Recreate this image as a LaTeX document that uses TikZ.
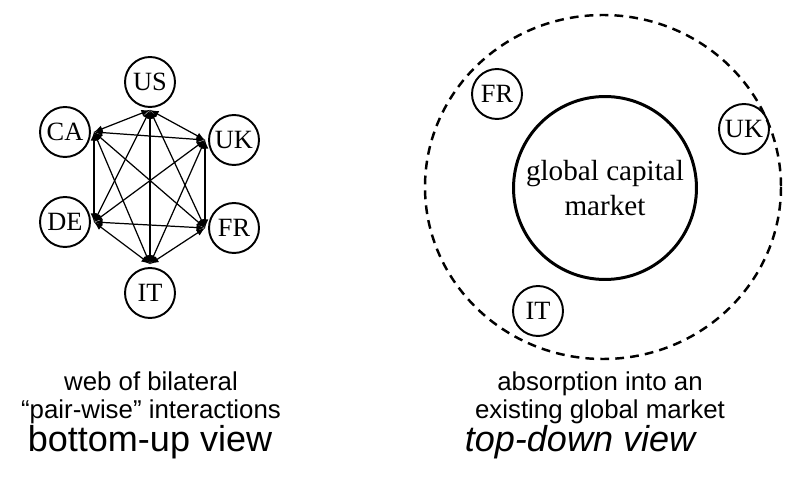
\documentclass[tikz,border=0pt]{standalone}
\usepackage{fontspec}
\setmainfont{Liberation Serif}
\setsansfont{Liberation Sans}
\usetikzlibrary{positioning,shapes,arrows}

\begin{document}
\begin{tikzpicture}[x=0.02cm,y=-0.02cm,
			country/.style = {shape=circle, draw, line width=1.1pt,
				minimum size=1cm, inner sep=0pt,
				font=\fontsize{15}{15}\selectfont},
			link/.style = {latex-latex, line width=0.7pt},
			outer/.style = {line width=1.4pt, dash pattern=on 5pt off 3.5pt},
			caption/.style = {align=center,
				font=\sffamily\fontsize{14.7}{15.6}\selectfont},
			viewname/.style = {font=\sffamily\fontsize{20.5}{24}\selectfont}]
			\useasboundingbox (0,0) rectangle (798,496);
			% bottom-up view
			\node[country] (us) at (150,82) {US};
			\node[country] (uk) at (234,140) {UK};
			\node[country] (fr) at (234,228) {FR};
			\node[country] (it) at (150,293) {IT};
			\node[country] (de) at (65,222) {DE};
			\node[country] (ca) at (65,132) {CA};
			\coordinate[below=0.04cm of us] (us-j);
			\coordinate[left=0.06cm of uk] (uk-j);
			\coordinate[left=0.06cm of fr] (fr-j);
			\coordinate[above=0.06cm of it] (it-j);
			\coordinate[right=0.06cm of de] (de-j);
			\coordinate[right=0.06cm of ca] (ca-j);
			\foreach \a/\b in {us/uk,us/fr,us/it,us/de,us/ca,
				uk/fr,uk/it,uk/de,uk/ca,fr/it,fr/de,fr/ca,
				it/de,it/ca,de/ca}
			\draw[link] (\a-j) -- (\b-j);
			\node[caption] (bu-text) at (151,398) {web of bilateral\\``pair-wise'' interactions};
			\node[viewname] (bu-view) at (150,442) {bottom-up view};
			% top-down view
			\draw[outer] (603,187) ellipse [x radius=178, y radius=172];
			\node[shape=circle, draw, line width=1.7pt, minimum size=3.66cm,
				align=center, font=\fontsize{16.6}{20}\selectfont] (market) at (605,188)
				{global capital\\market};
			\node[country] (fr2) at (497,94) {FR};
			\node[country] (uk2) at (744,129) {UK};
			\node[country] (it2) at (538,311) {IT};
			\node[caption] (td-text) at (600,398) {absorption into an\\existing global market};
			\node[viewname, font=\sffamily\itshape\fontsize{20.5}{24}\selectfont] (td-view) at (580,442) {top-down view};
\end{tikzpicture}
\end{document}
